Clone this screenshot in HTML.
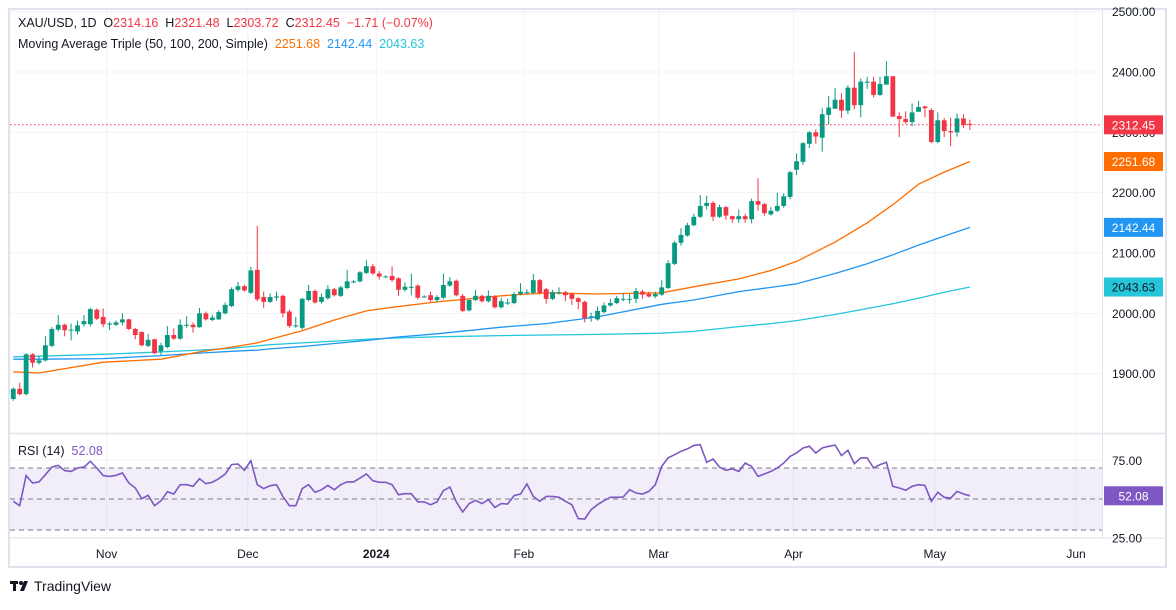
<!DOCTYPE html>
<html><head><meta charset="utf-8">
<style>
html,body{margin:0;padding:0;background:#fff;}
body{width:1176px;height:605px;overflow:hidden;font-family:"Liberation Sans",sans-serif;}
svg text{font-family:"Liberation Sans",sans-serif;white-space:pre;}
</style></head>
<body>
<svg id="chart" width="1176" height="605" viewBox="0 0 1176 605" xmlns="http://www.w3.org/2000/svg">
  <rect x="9" y="9" width="1157" height="558" fill="#fff" stroke="#e0e3eb" stroke-width="2"/>
  <g id="grid"></g>
  <rect x="10" y="468" width="1092" height="62" fill="#7e57c2" fill-opacity="0.1"/>
  <g id="rsiLines"></g>
  <g id="mas"></g>
  <g id="candles"></g>
  <line x1="10" y1="124.8" x2="1102" y2="124.8" stroke="#f23645" stroke-width="1" stroke-dasharray="1.5,2.5"/>
  <g id="rsi"></g>
  <line x1="10" y1="433.5" x2="1165" y2="433.5" stroke="#e0e3eb" stroke-width="1.5"/>
  <line x1="1102.5" y1="9" x2="1102.5" y2="538" stroke="#e0e3eb" stroke-width="1"/>
  <line x1="10" y1="538" x2="1165" y2="538" stroke="#e0e3eb" stroke-width="1"/>
  <g id="axes"></g>
  <g id="tags"></g>
  <text x="18" y="27" font-size="12.5" fill="#131722" xml:space="preserve">XAU/USD, 1D  O<tspan fill="#f23645">2314.16</tspan>  H<tspan fill="#f23645">2321.48</tspan>  L<tspan fill="#f23645">2303.72</tspan>  C<tspan fill="#f23645">2312.45</tspan>  <tspan fill="#f23645">−1.71 (−0.07%)</tspan></text>
  <text x="18" y="48" font-size="12.5" fill="#131722" xml:space="preserve">Moving Average Triple (50, 100, 200, Simple)  <tspan fill="#ff6d00">2251.68</tspan>  <tspan fill="#2196f3">2142.44</tspan>  <tspan fill="#26c6da">2043.63</tspan></text>
  <text x="18" y="455" font-size="12.5" fill="#131722" xml:space="preserve">RSI (14)  <tspan fill="#7e57c2">52.08</tspan></text>
  <g>
    <rect x="10" y="581" width="8" height="3" fill="#131722"/>
    <rect x="13" y="581" width="3" height="10" fill="#131722"/>
    <circle cx="21" cy="583" r="2" fill="#131722"/>
    <polygon points="24,581 28,581 24,591 20,591" fill="#131722"/>
    <text x="34" y="591" font-size="14" fill="#131722">TradingView</text>
  </g>
</svg>
<script>
const opens=[1858,1875,1866,1932,1918,1922,1946,1973,1981,1973,1970,1982,1982,2006,1994,1983,1981,1985,1990,1974,1969,1946,1957,1937,1944,1964,1958,1981,1981,1977,2000,1989,1990,2000,2012,2039,2045,2034,2072,2027,2019,2026,2029,2003,1980,1976,2022,2037,2019,2025,2040,2029,2042,2053,2053,2067,2078,2066,2061,2062,2058,2039,2044,2046,2028,2030,2022,2026,2046,2054,2029,2005,2022,2029,2020,2028,2010,2018,2017,2032,2035,2034,2055,2040,2024,2035,2035,2032,2025,2019,1995,1990,2002,2013,2017,2024,2024,2024,2036,2032,2028,2031,2042,2082,2117,2129,2146,2160,2178,2183,2160,2176,2161,2156,2161,2156,2186,2181,2164,2170,2178,2193,2238,2251,2281,2300,2291,2329,2339,2354,2336,2374,2345,2384,2384,2362,2379,2393,2327,2322,2317,2334,2343,2337,2284,2320,2302,2300,2323,2314];
const highs=[1877,1885,1934,1934,1930,1962,1977,1997,1983,1983,1988,1997,2009,2008,2008,1986,1988,2000,1991,1976,1970,1966,1958,1951,1979,1975,1990,1995,1985,2009,2003,1998,2005,2018,2043,2052,2047,2077,2145,2036,2033,2036,2031,2006,1994,2026,2047,2040,2033,2047,2042,2046,2072,2055,2070,2088,2082,2070,2063,2078,2060,2051,2066,2048,2030,2036,2030,2066,2060,2056,2032,2024,2039,2031,2038,2030,2026,2024,2035,2050,2040,2065,2057,2042,2039,2043,2037,2034,2027,2021,2001,2011,2018,2024,2029,2034,2032,2042,2039,2036,2036,2055,2088,2120,2141,2150,2165,2196,2195,2186,2180,2178,2162,2172,2165,2190,2224,2183,2176,2200,2199,2236,2265,2284,2302,2305,2340,2360,2373,2365,2378,2433,2389,2392,2392,2392,2418,2393,2333,2335,2348,2352,2344,2340,2333,2324,2324,2331,2330,2321];
const lows=[1855,1864,1864,1910,1915,1920,1944,1970,1962,1955,1965,1978,1978,1989,1977,1972,1979,1980,1972,1957,1945,1944,1932,1931,1942,1956,1956,1976,1968,1976,1988,1987,1989,1998,2010,2036,2036,2032,2020,2009,2017,2021,1993,1976,1976,1973,2020,2016,2016,2023,2028,2027,2040,2050,2051,2065,2064,2056,2059,2052,2029,2036,2030,2023,2026,2019,2018,2024,2044,2028,2002,2003,2020,2018,2018,2008,2008,2014,2015,2030,2032,2032,2031,2016,2022,2031,2020,2014,2007,1985,1986,1988,2000,2011,2015,2020,2016,2017,2024,2026,2025,2029,2040,2080,2112,2127,2144,2158,2172,2153,2158,2155,2150,2150,2150,2149,2170,2162,2162,2168,2175,2189,2229,2246,2274,2281,2268,2313,2348,2324,2330,2338,2325,2372,2358,2360,2386,2326,2292,2314,2310,2336,2325,2282,2282,2292,2277,2293,2307,2304];
const closes=[1875,1866,1932,1918,1922,1947,1974,1981,1972,1973,1980,1987,2007,1991,1982,1983,1985,1990,1974,1964,1947,1956,1934,1947,1964,1958,1981,1981,1977,2000,1990,1993,2002,2014,2040,2045,2038,2071,2023,2019,2027,2028,2000,1979,1980,2024,2037,2018,2027,2040,2030,2043,2053,2053,2068,2078,2066,2061,2061,2055,2039,2044,2044,2026,2028,2022,2027,2047,2053,2030,2004,2022,2029,2020,2029,2010,2020,2018,2032,2036,2035,2055,2034,2024,2035,2035,2030,2024,2019,1992,1995,2004,2013,2017,2025,2024,2024,2037,2031,2028,2032,2043,2083,2117,2130,2146,2160,2178,2183,2160,2176,2162,2156,2161,2156,2186,2180,2166,2170,2178,2194,2234,2252,2282,2300,2293,2330,2341,2354,2336,2374,2345,2384,2384,2362,2380,2393,2326,2322,2317,2333,2342,2340,2284,2320,2302,2300,2323,2312,2312.45];
const rsiValues=[48.5,45.7,65.1,60.3,61.0,65.7,70.6,71.7,68.3,67.8,70.0,70.6,74.3,70.0,65.1,64.6,65.3,66.8,60.3,57.1,50.2,52.4,45.7,48.9,54.7,53.2,59.2,59.2,58.2,63.1,59.9,60.8,63.1,66.1,72.2,72.6,68.5,74.7,59.2,56.7,58.6,59.2,51.7,45.7,45.7,56.7,59.2,54.3,56.0,58.8,56.0,59.2,61.0,61.0,63.5,66.1,61.8,60.8,60.8,59.2,52.8,53.4,53.4,48.1,48.1,46.3,48.1,55.4,57.7,48.1,41.6,47.0,49.1,47.0,49.6,44.6,47.0,46.8,52.2,53.2,59.7,51.7,48.5,51.7,51.7,51.1,48.5,46.3,37.3,37.1,43.1,46.3,48.9,51.1,51.1,51.3,56.0,53.9,53.2,54.9,59.2,71.1,76.5,78.6,80.8,82.3,84.6,85.1,73.7,75.8,70.6,68.5,69.4,67.8,73.2,71.1,64.6,66.1,67.8,70.0,73.2,77.5,79.7,82.9,84.0,79.7,82.9,84.0,84.8,78.0,81.4,72.8,76.5,76.5,70.0,72.2,73.7,58.2,57.1,55.6,58.2,59.2,58.8,48.5,54.3,51.1,50.6,54.9,53.2,52.08];
const maBars=[0,4,14,23,29,34,38,40,45,50,55,59,66,76,83,91,101,106,113,118,122,128,133,137,141,145,149];
const ma50=[1903,1901,1919,1924,1936,1944,1951,1957,1971,1989,2004,2010,2019,2029,2034,2032,2034,2044,2057,2071,2086,2118,2150,2180,2214,2234,2251.68];
const ma100=[1924,1924,1925,1930,1934,1937,1939,1941,1945,1950,1955,1960,1966,1977,1983,1994,2015,2022,2036,2043,2049,2066,2082,2097,2113,2128,2142.44];
const ma200=[1928,1929,1932,1936,1939,1942,1946,1948,1951,1954,1957,1959,1961,1963,1964,1965,1967,1970,1978,1983,1988,1998,2008,2016,2025,2035,2043.63];
const priceTicks=[2500,2400,2300,2200,2100,2000,1900];
const rsiTicks=[75,25];
const rsiLevels=[70,50,30];
const monthLabels=["Nov","Dec","2024","Feb","Mar","Apr","May","Jun"];
const monthBars=[15,37,57,80,101,122,144,166];
const tagLabels=["2312.45","2251.68","2142.44","2043.63"];
const tagValues=[2312.45,2251.68,2142.44,2043.63];

const NS="http://www.w3.org/2000/svg";
const X=i=>13.3+i*6.42;
const Y=p=>72+(2400-p)*0.6033;
const RY=r=>499-(r-50)*1.55;
function mk(tag,attrs,parent){const e=document.createElementNS(NS,tag);for(const k in attrs)e.setAttribute(k,attrs[k]);parent.appendChild(e);return e;}
const grid=document.getElementById('grid'),axes=document.getElementById('axes');

priceTicks.forEach(p=>{
  const l=mk('line',{x1:10,x2:1102,y1:Y(p),y2:Y(p),stroke:'#f0f3fa','stroke-width':1},grid);
  
  
  const t=mk('text',{x:1112,y:Y(p)+4.5,'font-size':12,fill:'#131722'},axes);
  t.textContent=p.toFixed(2);
  
  
});
rsiTicks.forEach(r=>{
  const l=mk('line',{x1:10,x2:1102,y1:RY(r),y2:RY(r),stroke:'#f0f3fa','stroke-width':1},grid);
  
  
  const t=mk('text',{x:1112,y:RY(r)+4.5,'font-size':12,fill:'#131722'},axes);
  t.textContent=r.toFixed(2);
  
  
});
monthBars.forEach((b,k)=>{
  const x=X(b)-3;
  const l=mk('line',{x1:x,x2:x,y1:10,y2:538,stroke:'#f0f3fa','stroke-width':1},grid);
  
  
  const t=mk('text',{x:x,y:558,'font-size':12,fill:'#131722','text-anchor':'middle','font-weight':monthLabels[k]==='2024'?'bold':'normal'},axes);
  t.textContent=monthLabels[k];
  
  
});
const rl=document.getElementById('rsiLines');
rsiLevels.forEach(r=>{
  const l=mk('line',{x1:10,x2:1102,y1:RY(r),y2:RY(r),stroke:'#787b86','stroke-width':1,'stroke-dasharray':'5,4'},rl);
  
  
});

const mas=document.getElementById('mas');
[[ma200,'#26c6da','ma200-line'],[ma100,'#2196f3','ma100-line'],[ma50,'#ff6d00','ma50-line']].forEach(([arr,col,name])=>{
  const d=arr.map((v,k)=>(k?'L':'M')+X(maBars[k]).toFixed(1)+','+Y(v).toFixed(1)).join(' ');
  const p=mk('path',{d:d,fill:'none',stroke:col,'stroke-width':1.3,'stroke-linejoin':'round'},mas);
  
  
});

const cg=document.getElementById('candles');
closes.forEach((c,i)=>{
  const o=opens[i],col=c>=o?'#089981':'#f23645',x=X(i);
  const g=mk('g',{},cg);
  
  
  mk('line',{x1:x,x2:x,y1:Y(highs[i]),y2:Y(lows[i]),stroke:col,'stroke-width':1},g);
  const top=Y(Math.max(o,c)),bot=Y(Math.min(o,c));
  mk('rect',{x:x-2.4,y:top,width:4.8,height:Math.max(1,bot-top),fill:col},g);
});

const rg=document.getElementById('rsi');
const rd=rsiValues.map((v,i)=>(i?'L':'M')+X(i).toFixed(1)+','+RY(v).toFixed(1)).join(' ');
const rp=mk('path',{d:rd,fill:'none',stroke:'#7e57c2','stroke-width':1.6},rg);



const tags=document.getElementById('tags');
const tagCols=['#f23645','#ff6d00','#2196f3','#26c6da'];
const tagText=['#fff','#fff','#fff','#131722'];
tagValues.forEach((v,k)=>{
  const y=Y(v);
  const g=mk('g',{},tags);
  
  
  mk('rect',{x:1104,y:y-9.5,width:59,height:19,fill:tagCols[k]},g);
  const t=mk('text',{x:1133.5,y:y+4.5,'font-size':12,fill:tagText[k],'text-anchor':'middle'},g);
  t.textContent=tagLabels[k];
});
const rsiLast=rsiValues[rsiValues.length-1];
const rgTag=mk('g',{},tags);


mk('rect',{x:1104,y:RY(rsiLast)-9.5,width:59,height:19,fill:'#7e57c2'},rgTag);
const rt=mk('text',{x:1133.5,y:RY(rsiLast)+4.5,'font-size':12,fill:'#fff','text-anchor':'middle'},rgTag);
rt.textContent=rsiLast.toFixed(2);
</script>
</body></html>
